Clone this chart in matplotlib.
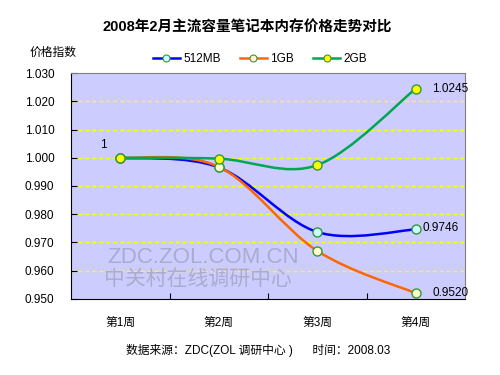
import matplotlib
matplotlib.use("Agg")
import matplotlib.pyplot as plt
from matplotlib.path import Path
from matplotlib.patches import PathPatch
import numpy as np

plt.rcParams["font.family"] = ["Liberation Sans", "Noto Sans CJK SC", "DejaVu Sans"]

weeks = ["第1周", "第2周", "第3周", "第4周"]
mem_512 = [1.0, 0.9966, 0.9737, 0.9746]
mem_1g = [1.0, 0.9968, 0.9670, 0.9520]
mem_2g = [1.0, 0.9997, 0.9974, 1.0245]

series = [
    ("512MB", mem_512, "#0000FF", "#CCFFFF"),
    ("1GB", mem_1g, "#FF6600", "#FFFFCC"),
    ("2GB", mem_2g, "#00A651", "#FFFF00"),
]


def smooth_path(xs, ys):
    # Excel-style smoothed line: cubic bezier through the points
    pts = np.column_stack([xs, ys]).astype(float)
    n = len(pts)
    verts = [pts[0]]
    codes = [Path.MOVETO]
    for i in range(n - 1):
        p0 = pts[i - 1] if i > 0 else pts[i]
        p1 = pts[i]
        p2 = pts[i + 1]
        p3 = pts[i + 2] if i + 2 < n else pts[i + 1]
        c1 = p1 + (p2 - p0) / 6.0
        c2 = p2 - (p3 - p1) / 6.0
        verts += [c1, c2, p2]
        codes += [Path.CURVE4] * 3
    return Path(verts, codes)


fig = plt.figure(figsize=(5, 3.75), dpi=100)
ax = fig.add_axes([0.142, 0.203, 0.788, 0.602])
ax.set_facecolor("#CCCCFF")

x = np.arange(len(weeks))
for name, vals, color, face in series:
    ax.add_patch(PathPatch(smooth_path(x, vals), facecolor="none",
                           edgecolor=color, lw=1.8, zorder=3))
    ax.plot(x, vals, ls="none", marker="o", ms=6.5, mfc=face,
            mec="#339933", mew=1.0, zorder=4)
    # legend handle
    ax.plot([], [], color=color, lw=1.8, marker="o", ms=5, mfc=face,
            mec="#339933", mew=0.8, label=name)

ax.set_xlim(-0.5, 3.5)
ax.set_ylim(0.95, 1.03)
ax.set_yticks(np.arange(0.95, 1.0301, 0.01))
ax.set_yticklabels([f"{v:.3f}" for v in np.arange(0.95, 1.0301, 0.01)], fontsize=8.5)
for v in np.arange(0.96, 1.0201, 0.01):
    ax.axhline(v, color="#FFFF00", lw=1, ls=(0, (3, 2)), zorder=1)

ax.set_xticks([0.5, 1.5, 2.5], minor=False)
ax.set_xticklabels([])
ax.set_xticks(x, minor=True)
ax.set_xticklabels(weeks, minor=True, fontsize=8.5)
ax.tick_params(axis="x", which="minor", length=0, pad=13)
ax.tick_params(axis="x", which="major", direction="in", length=4)
ax.tick_params(axis="y", direction="in", length=4, pad=12)
ax.spines["left"].set_color("black")
ax.spines["bottom"].set_color("black")
ax.spines["top"].set_color("#808080")
ax.spines["right"].set_color("#808080")

# data labels
ax.annotate("1", (0, mem_2g[0]), xytext=(-12, 5), textcoords="offset points",
            fontsize=8.5, ha="center", va="bottom")
ax.annotate("1.0245", (3, mem_2g[3]), xytext=(12, 0), textcoords="offset points",
            fontsize=8.5, ha="left", va="center")
ax.annotate("0.9746", (3, mem_512[3]), xytext=(5, 1), textcoords="offset points",
            fontsize=8.5, ha="left", va="center")
ax.annotate("0.9520", (3, mem_1g[3]), xytext=(12, 0), textcoords="offset points",
            fontsize=8.5, ha="left", va="center")

# watermark
fig.text(0.215, 0.298, "ZDC.ZOL.COM.CN", fontsize=16, color="#A8A8C8", alpha=0.9)
fig.text(0.208, 0.24, "中关村在线调研中心", fontsize=15, color="#A8A8C8", alpha=0.9)

ax.legend(loc="lower center", bbox_to_anchor=(0.48, 1.0), ncol=3, frameon=False,
          fontsize=8.5, handlelength=2.3, columnspacing=1.6, handletextpad=0.3,
          borderaxespad=0.3)

fig.text(0.495, 0.925, "2008年2月主流容量笔记本内存价格走势对比", ha="center",
         va="center", fontsize=10.5, fontweight="bold")
fig.text(0.06, 0.86, "价格指数", ha="left", va="center", fontsize=8.5)
fig.text(0.517, 0.065, "数据来源：ZDC(ZOL 调研中心 )      时间：2008.03",
         ha="center", va="center", fontsize=8.5)

fig.savefig("out.png", dpi=100)
